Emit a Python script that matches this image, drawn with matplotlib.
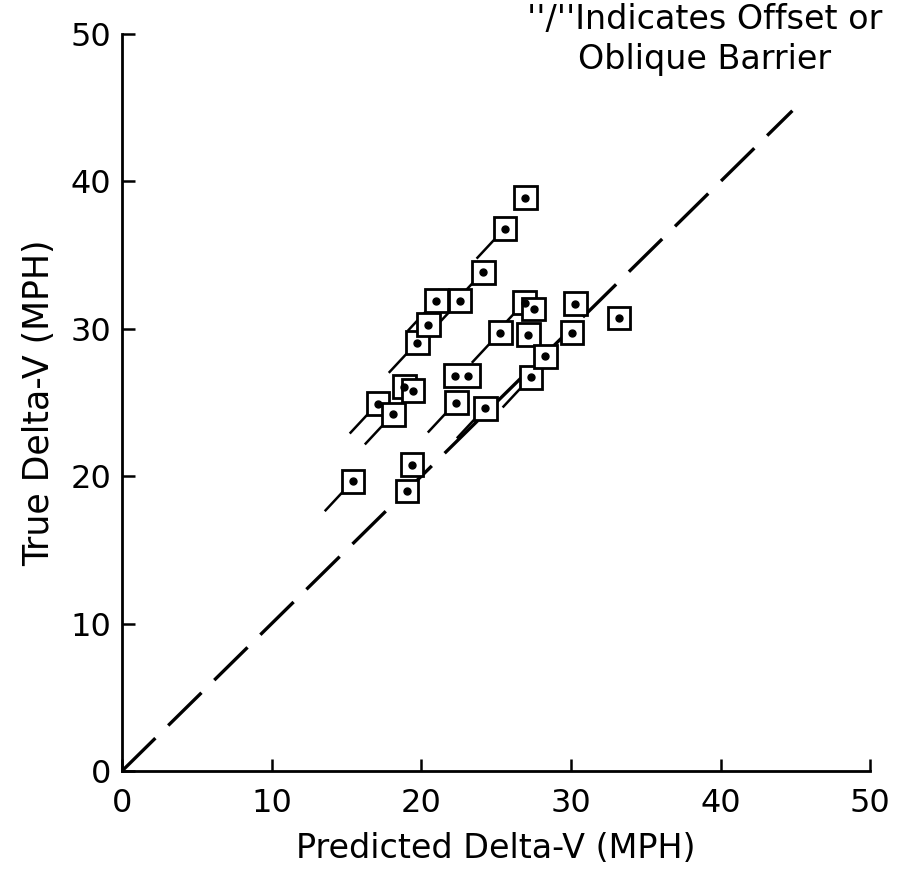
import numpy as np
import matplotlib.pyplot as plt
from matplotlib.patches import Rectangle

plt.rcParams['font.family'] = ['DejaVu Sans']

# predicted / true delta-V for each crash test (MPH)
predicted = [15.45, 19.06, 19.38, 17.12, 18.13, 18.86, 19.46, 22.34, 24.28,
             19.73, 20.47, 21.0, 22.6, 24.15, 25.6, 26.96,
             25.28, 26.9, 27.5, 27.16, 27.34, 28.29, 30.08, 30.3, 33.2]
true_dv = [19.66, 18.99, 20.79, 24.93, 24.19, 26.08, 25.81, 25.0, 24.61,
           29.05, 30.27, 31.9, 31.9, 33.85, 36.8, 38.9,
           29.73, 31.76, 31.35, 29.6, 26.7, 28.15, 29.73, 31.7, 30.74]
# offset or oblique barrier tests get the "/" tail
oblique = [1, 0, 0, 1, 1, 0, 0, 1, 1,
           1, 0, 1, 1, 1, 1, 0,
           1, 1, 0, 0, 1, 0, 0, 0, 0]
# the two tests sharing one box
pair_x = [22.27, 23.14]
pair_y = 26.82

fig = plt.figure(figsize=(8.98, 8.75), dpi=100)
ax = fig.add_axes([0.136, 0.119, 0.833, 0.842])

# line of perfect agreement
ax.plot([0, 44.8], [0, 44.8], color='k', lw=2.4, dashes=(14, 5.4), zorder=1)

bw, bh = 1.5, 1.55
for x, y, o in zip(predicted, true_dv, oblique):
    if o:
        ax.plot([x - bw / 2, x - bw / 2 - 1.1], [y - bh / 2, y - bh / 2 - 1.2],
                color='k', lw=1.8, zorder=2)
    ax.add_patch(Rectangle((x - bw / 2, y - bh / 2), bw, bh, fc='white',
                           ec='k', lw=2.0, zorder=3))
    ax.plot(x, y, 'o', color='k', ms=5, zorder=4)

pw = pair_x[1] - pair_x[0] + bw
ax.add_patch(Rectangle((pair_x[0] - bw / 2, pair_y - bh / 2), pw, bh,
                       fc='white', ec='k', lw=2.0, zorder=3))
ax.plot(pair_x, [pair_y, pair_y], 'o', color='k', ms=5, zorder=4)

ax.set_xlim(0, 50)
ax.set_ylim(0, 50)
ax.set_xticks(np.arange(0, 51, 10))
ax.set_yticks(np.arange(0, 51, 10))
ax.spines['top'].set_visible(False)
ax.spines['right'].set_visible(False)
ax.spines['left'].set_linewidth(2.0)
ax.spines['bottom'].set_linewidth(2.0)
ax.tick_params(direction='in', length=9, width=1.8, labelsize=23)
ax.tick_params(axis='x', pad=12)
ax.tick_params(axis='y', pad=8)

ax.set_xlabel('Predicted Delta-V (MPH)', fontsize=24, labelpad=10)
ax.set_ylabel('True Delta-V (MPH)', fontsize=25, labelpad=10)

fig.text(0.785, 0.997, "''/''Indicates Offset or\nOblique Barrier",
         ha='center', va='top', fontsize=24, linespacing=1.3)

fig.savefig('out.png', dpi=100)
